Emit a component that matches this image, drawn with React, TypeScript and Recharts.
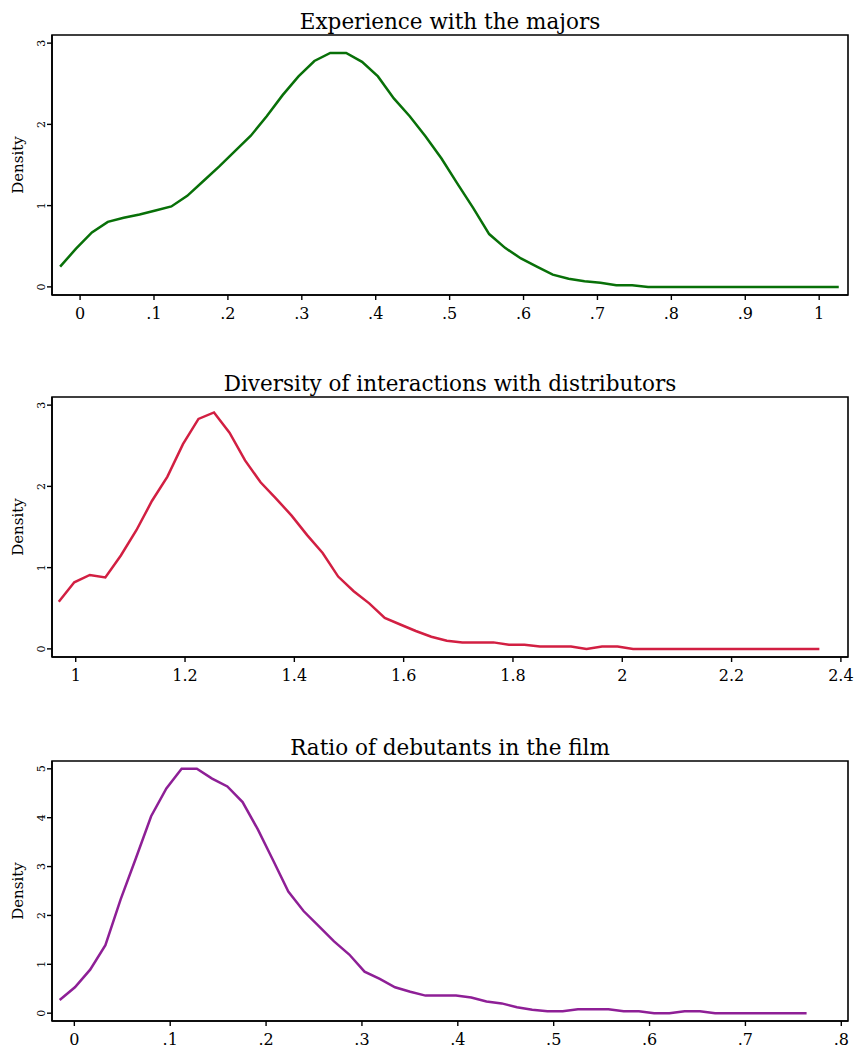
import { Line, LineChart, ReferenceArea, XAxis, YAxis } from "recharts";

const FONT = "DejaVu Serif";

// kernel density estimates, 50 points each
const majorsX = [
  -0.027, -0.0055, 0.016, 0.0375, 0.059, 0.0805, 0.102, 0.1235, 0.145, 0.1665,
  0.188, 0.2095, 0.231, 0.2525, 0.274, 0.2955, 0.317, 0.3385, 0.36, 0.3815,
  0.403, 0.4245, 0.446, 0.4675, 0.489, 0.5105, 0.532, 0.5535, 0.575, 0.5965,
  0.618, 0.6395, 0.661, 0.6825, 0.704, 0.7255, 0.747, 0.7685, 0.79, 0.8115,
  0.833, 0.8545, 0.876, 0.8975, 0.919, 0.9405, 0.962, 0.9835, 1.005, 1.0265,
];
const majorsY = [
  0.25, 0.47, 0.67, 0.8, 0.85, 0.89, 0.94, 0.99, 1.12, 1.3,
  1.48, 1.67, 1.86, 2.1, 2.36, 2.59, 2.78, 2.88, 2.88, 2.77,
  2.59, 2.32, 2.1, 1.85, 1.58, 1.27, 0.97, 0.65, 0.48, 0.35,
  0.25, 0.15, 0.1, 0.07, 0.05, 0.02, 0.02, 0, 0, 0,
  0, 0, 0, 0, 0, 0, 0, 0, 0, 0,
];

const distribX = [
  0.969, 0.9974, 1.0258, 1.0542, 1.0826, 1.111, 1.1394, 1.1678, 1.1962, 1.2246,
  1.253, 1.2814, 1.3098, 1.3382, 1.3666, 1.395, 1.4234, 1.4518, 1.4802, 1.5086,
  1.537, 1.5654, 1.5938, 1.6222, 1.6506, 1.679, 1.7074, 1.7358, 1.7642, 1.7926,
  1.821, 1.8494, 1.8778, 1.9062, 1.9346, 1.963, 1.9914, 2.0198, 2.0482, 2.0766,
  2.105, 2.1334, 2.1618, 2.1902, 2.2186, 2.247, 2.2754, 2.3038, 2.3322, 2.3606,
];
const distribY = [
  0.58, 0.82, 0.91, 0.88, 1.15, 1.46, 1.82, 2.12, 2.52, 2.83,
  2.91, 2.66, 2.32, 2.05, 1.85, 1.64, 1.4, 1.18, 0.89, 0.71,
  0.56, 0.38, 0.3, 0.22, 0.15, 0.1, 0.08, 0.08, 0.08, 0.05,
  0.05, 0.03, 0.03, 0.03, 0, 0.03, 0.03, 0, 0, 0,
  0, 0, 0, 0, 0, 0, 0, 0, 0, 0,
];

const debutX = [
  -0.0153, 0.0006, 0.0165, 0.0324, 0.0483, 0.0642, 0.0801, 0.096, 0.1119, 0.1278,
  0.1437, 0.1596, 0.1755, 0.1914, 0.2073, 0.2232, 0.2391, 0.255, 0.2709, 0.2868,
  0.3027, 0.3186, 0.3345, 0.3504, 0.3663, 0.3822, 0.3981, 0.414, 0.4299, 0.4458,
  0.4617, 0.4776, 0.4935, 0.5094, 0.5253, 0.5412, 0.5571, 0.573, 0.5889, 0.6048,
  0.6207, 0.6366, 0.6525, 0.6684, 0.6843, 0.7002, 0.7161, 0.732, 0.7479, 0.7638,
];
const debutY = [
  0.27, 0.53, 0.89, 1.39, 2.33, 3.17, 4.03, 4.6, 5.0, 5.0,
  4.8, 4.64, 4.32, 3.76, 3.13, 2.49, 2.09, 1.78, 1.47, 1.2,
  0.85, 0.7, 0.53, 0.44, 0.36, 0.36, 0.36, 0.32, 0.24, 0.2,
  0.12, 0.07, 0.04, 0.04, 0.08, 0.08, 0.08, 0.04, 0.04, 0,
  0, 0.04, 0.04, 0, 0, 0, 0, 0, 0, 0,
];

const decimalTicks = [0, 0.1, 0.2, 0.3, 0.4, 0.5, 0.6, 0.7, 0.8, 0.9, 1];
const debutTicks = [0, 0.1, 0.2, 0.3, 0.4, 0.5, 0.6, 0.7, 0.8];
const distribTicks = [1, 1.2, 1.4, 1.6, 1.8, 2, 2.2, 2.4];
const densityTicks3 = [0, 1, 2, 3];
const densityTicks5 = [0, 1, 2, 3, 4, 5];

const zip = (xs: number[], ys: number[]) => xs.map((x, i) => ({ x, y: ys[i] }));

// stata style: ".1" instead of "0.1"
const stataFmt = (v: number) => (v > 0 && v < 1 ? String(v).replace(/^0/, "") : String(v));

const YTick = (props: any) => {
  const { x, y, payload } = props;
  return (
    <text
      x={x}
      y={y}
      transform={`rotate(-90 ${x} ${y})`}
      textAnchor="middle"
      fontFamily={FONT}
      fontSize={11}
      fill="#000"
    >
      {payload.value}
    </text>
  );
};

type PanelProps = {
  top: number;
  title: string;
  data: { x: number; y: number }[];
  color: string;
  xDomain: [number, number];
  xTicks: number[];
  yDomain: [number, number];
  yTicks: number[];
  fmt: (v: number) => string;
};

function Panel({ top, title, data, color, xDomain, xTicks, yDomain, yTicks, fmt }: PanelProps) {
  return (
    <div style={{ position: "absolute", left: 0, top, width: 854, height: 340 }}>
      <div
        style={{
          position: "absolute",
          left: 52,
          width: 796,
          top: 10.5,
          textAlign: "center",
          fontFamily: FONT,
          fontSize: 21.5,
          lineHeight: "22px",
          color: "#000",
          whiteSpace: "nowrap",
        }}
      >
        {title}
      </div>
      <div
        style={{
          position: "absolute",
          left: 18,
          top: 165,
          transform: "translate(-50%, -50%) rotate(-90deg)",
          fontFamily: FONT,
          fontSize: 15,
          lineHeight: "15px",
          whiteSpace: "nowrap",
          color: "#000",
        }}
      >
        Density
      </div>
      <LineChart width={854} height={340} data={data} margin={{ top: 35, right: 6, bottom: 5, left: 0 }}>
        <XAxis
          dataKey="x"
          type="number"
          domain={xDomain}
          allowDataOverflow
          ticks={xTicks}
          tickFormatter={fmt}
          height={40}
          tickSize={5}
          tickMargin={8}
          axisLine={{ stroke: "#000", strokeWidth: 1.6 }}
          tickLine={{ stroke: "#000", strokeWidth: 1.4 }}
          tick={{ fill: "#000", fontFamily: FONT, fontSize: 16 }}
        />
        <YAxis
          type="number"
          domain={yDomain}
          allowDataOverflow
          ticks={yTicks}
          width={52}
          tickSize={5}
          tickMargin={2}
          axisLine={{ stroke: "#000", strokeWidth: 1.6 }}
          tickLine={{ stroke: "#000", strokeWidth: 1.4 }}
          tick={<YTick />}
        />
        <ReferenceArea
          x1={xDomain[0]}
          x2={xDomain[1]}
          y1={yDomain[0]}
          y2={yDomain[1]}
          fill="none"
          stroke="#000"
          strokeWidth={1.6}
          ifOverflow="visible"
        />
        <Line
          type="linear"
          dataKey="y"
          stroke={color}
          strokeWidth={2.5}
          dot={false}
          isAnimationActive={false}
        />
      </LineChart>
    </div>
  );
}

export default function App() {
  return (
    <div style={{ position: "absolute", left: 0, top: 0, width: 854, height: 1048, background: "#fff" }}>
      <Panel
        top={0}
        title="Experience with the majors"
        data={zip(majorsX, majorsY)}
        color="#087008"
        xDomain={[-0.038, 1.039]}
        xTicks={decimalTicks}
        yDomain={[-0.1, 3.1]}
        yTicks={densityTicks3}
        fmt={stataFmt}
      />
      <Panel
        top={362}
        title="Diversity of interactions with distributors"
        data={zip(distribX, distribY)}
        color="#d21f42"
        xDomain={[0.9566, 2.413]}
        xTicks={distribTicks}
        yDomain={[-0.1, 3.1]}
        yTicks={densityTicks3}
        fmt={(v: number) => String(v)}
      />
      <Panel
        top={726}
        title="Ratio of debutants in the film"
        data={zip(debutX, debutY)}
        color="#8e1f96"
        xDomain={[-0.0233, 0.807]}
        xTicks={debutTicks}
        yDomain={[-0.16, 5.16]}
        yTicks={densityTicks5}
        fmt={stataFmt}
      />
    </div>
  );
}
